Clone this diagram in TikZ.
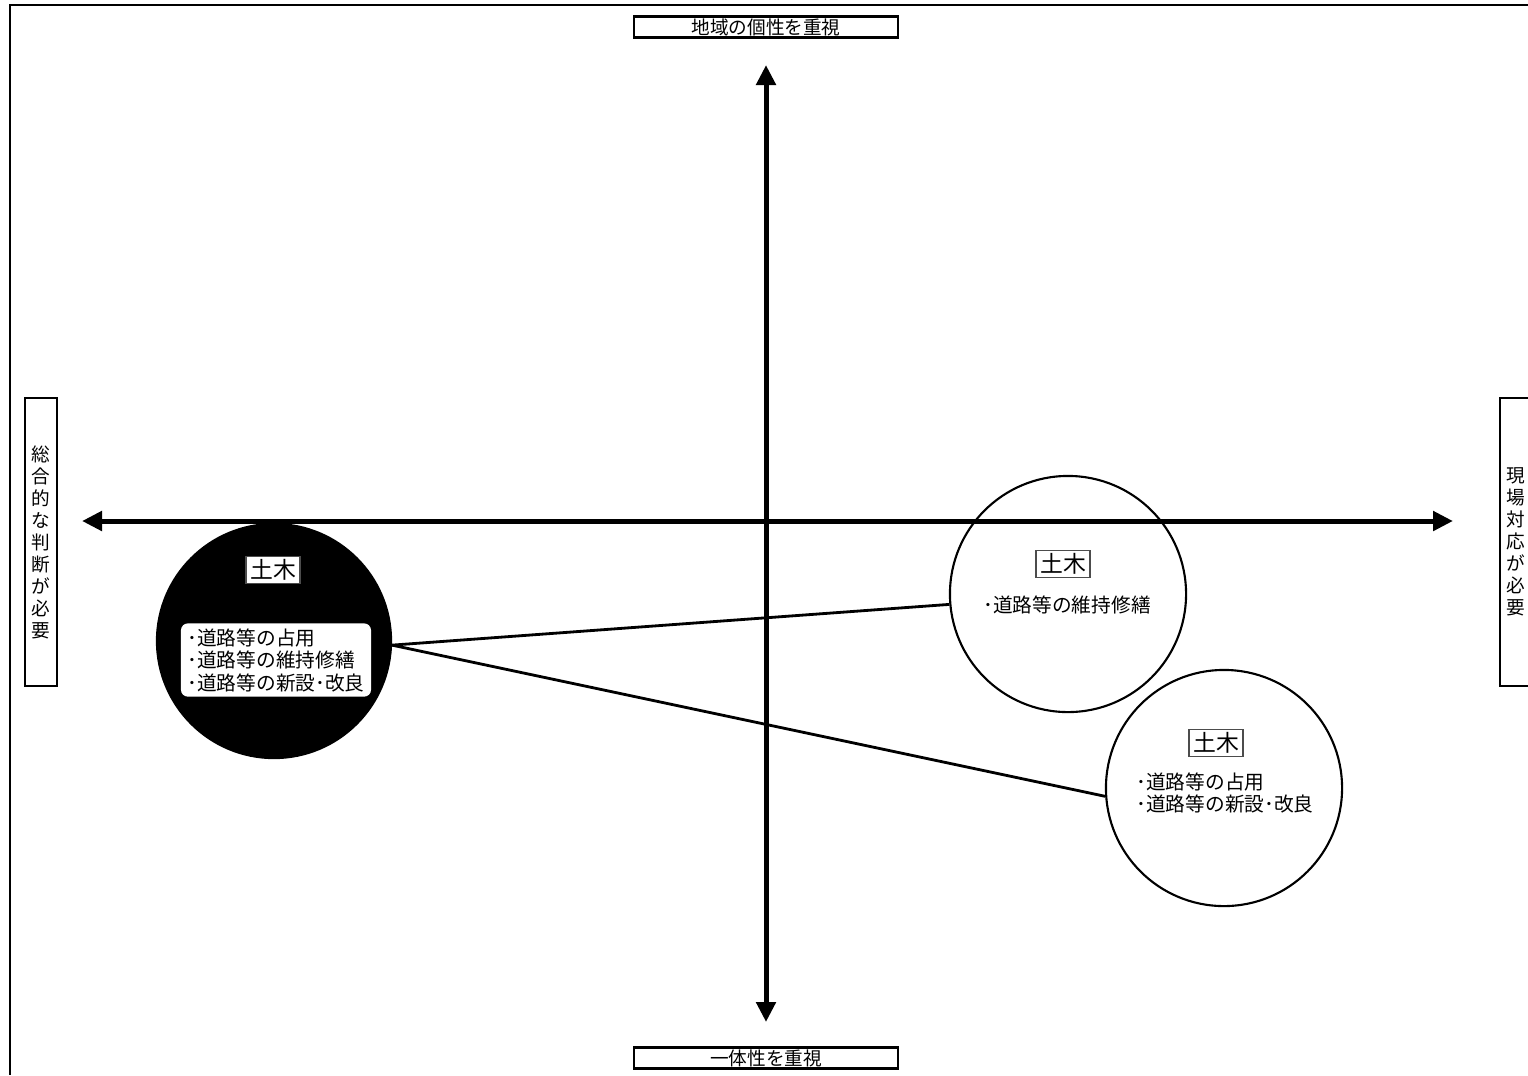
\documentclass[tikz,border=0pt]{standalone}
\usepackage{fontspec}
\setmainfont{Noto Sans CJK JP}
\usetikzlibrary{arrows.meta}

\begin{document}
\begin{tikzpicture}[x=0.01cm,y=-0.01cm,
    axis/.style={line width=0.05cm,{Triangle[width=0.19cm,length=0.2cm]}-{Triangle[width=0.19cm,length=0.2cm]}},
    lbl/.style={draw,line width=0.7pt,inner sep=0pt,font=\fontsize{5.3}{6.26}\selectfont},
    field/.style={circle,draw,line width=0.6pt,minimum size=2.36cm,inner sep=0pt},
    tag/.style={draw=black!70,fill=white,line width=0.4pt,inner xsep=0.04cm,inner ysep=0.03cm,font=\fontsize{6.5}{7}\selectfont},
    items/.style={align=left,inner sep=0pt,font=\fontsize{5.6}{6.4}\selectfont},
    link/.style={line width=0.8pt}]
    \useasboundingbox (0,0) rectangle (1528,1075);
    \draw[line width=0.7pt] (1528,5) -- (10,5) -- (10,1075);
    % axis labels
    \node[lbl,minimum width=2.64cm,minimum height=0.21cm] (ltop) at (766,27) {地域の個性を重視};
    \node[lbl,minimum width=2.64cm,minimum height=0.21cm] (lbot) at (766,1058) {一体性を重視};
    \node[lbl,minimum width=0.32cm,minimum height=2.88cm,align=center] (lleft) at (41,542) {総\\合\\的\\な\\判\\断\\が\\必\\要};
    \node[lbl,minimum width=0.32cm,minimum height=2.88cm,align=center] (lright) at (1516,542) {現\\場\\対\\応\\が\\必\\要};
    % axes
    \coordinate (ytop) at (766,65);
    \coordinate (ybot) at (766,1022);
    \coordinate (xleft) at (82,521);
    \coordinate (xright) at (1453,521);
    \draw[axis] (ybot) -- (ytop);
    \draw[axis] (xleft) -- (xright);
    % fields
    \node[field,fill=black,minimum size=2.34cm] (blk) at (274,641) {};
    \node[field] (c2) at (1068,594) {};
    \node[field] (c3) at (1224,788) {};
    \node[tag] (tblk) at (273,570) {土木};
    \node[items,fill=white,rounded corners=0.07cm,inner xsep=0.02cm,inner ysep=0.05cm,minimum width=1.9cm] (iblk) at (276,660)
        {･道路等の占用\\･道路等の維持修繕\\･道路等の新設･改良};
    \node[tag] (tc2) at (1063,564) {土木};
    \node[items] (ic2) at (1067,605) {･道路等の維持修繕};
    \node[tag] (tc3) at (1216,743) {土木};
    \node[items] (ic3) at (1225,793) {･道路等の占用\\･道路等の新設･改良};
    \draw[link] (blk.358) -- (c2.185);
    \draw[link] (blk.358) -- (c3.184);
\end{tikzpicture}
\end{document}
